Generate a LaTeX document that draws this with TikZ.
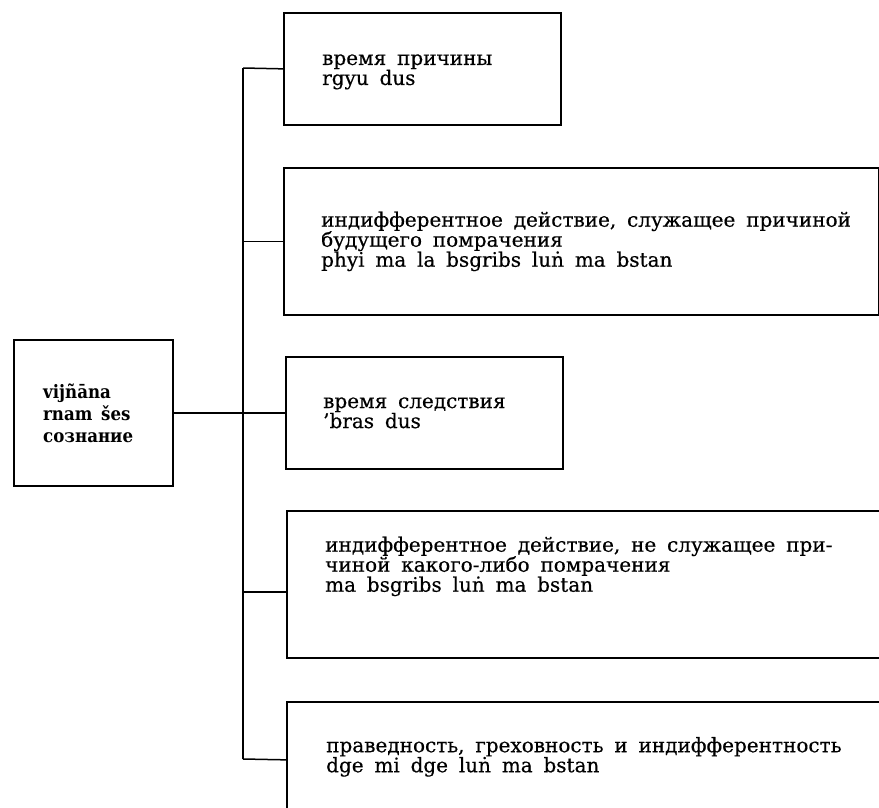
\documentclass[tikz,border=0pt]{standalone}
\usepackage{fontspec}
\setmainfont{DejaVu Serif}[WordSpace=1.7,FakeBold=0.4]
\newfontfamily\vijfont[FakeStretch=0.9,WordSpace=1.5]{DejaVu Serif}
\usetikzlibrary{positioning}
\tikzset{
  waku/.style={draw, line width=1.7pt, inner sep=0pt, anchor=north west},
  bun/.style={font=\fontsize{20}{20}\selectfont, align=left, inner sep=0pt, anchor=west},
  sen/.style={line width=1.5pt}
}
\begin{document}
\begin{tikzpicture}[x=1pt,y=-1pt]
        % 画面の範囲
        \useasboundingbox (0,0) rectangle (879,807);
        % 左の枠
        \node[waku, minimum width=159pt, minimum height=146pt] (vij) at (13,339) {};
        \node[bun, font=\vijfont\bfseries\fontsize{18.5}{22}\selectfont, right=30pt of vij.west] (vijt) {vijñāna\\rnam šes\\сознание};
        % 右の枠（五つ）
        \node[waku, minimum width=277pt, minimum height=112pt] (prich) at (283,12) {};
        \node[waku, minimum width=595pt, minimum height=147pt] (dejst) at (283,167) {};
        \node[waku, minimum width=277pt, minimum height=112pt] (sled) at (285,356) {};
        \node[waku, minimum width=620pt, minimum height=147pt] (nedejst) at (286,510) {};
        \node[waku, minimum width=620pt, minimum height=116pt] (prav) at (286,701) {};
        % 枠の中の文
        \node[bun, right=39pt of prich.west, yshift=-3pt] (pricht) {время причины\\rgyu dus};
        \node[bun, right=38pt of dejst.west] (dejstt) {индифферентное действие, служащее причиной\\будущего помрачения\\phyi ma la bsgribs luṅ ma bstan};
        \node[bun, right=38pt of sled.west] (sledt) {время следствия\\’bras dus};
        \node[bun, right=39pt of nedejst.west, yshift=18pt] (nedejstt) {индифферентное действие, не служащее при-\\чиной какого-либо помрачения\\ma bsgribs luṅ ma bstan};
        \node[bun, right=40pt of prav.west, yshift=3pt] (pravt) {праведность, греховность и индифферентность\\dge mi dge luṅ ma bstan};
        % 縦の線
        \coordinate (s1) at (243,68);
        \coordinate (s4) at (243,592);
        \coordinate (s5) at (243,759);
        \draw[sen] (s1) -- (s5);
        % 横の線
        \draw[sen] (s1) -- (prich.west);
        \draw[sen] (s1 |- dejst.west) -- (dejst.west);
        \draw[sen, line width=2pt] (vij.east) -- (sled.west);
        \draw[sen] (s4) -- (s4 -| nedejst.west);
        \draw[sen] (s5) -- (prav.west);
      \end{tikzpicture}
\end{document}
